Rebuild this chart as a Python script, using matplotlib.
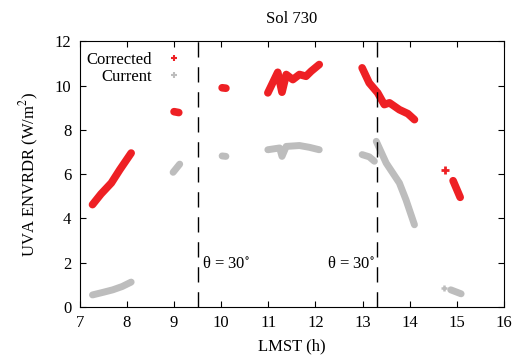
import matplotlib
matplotlib.use("Agg")
import matplotlib.pyplot as plt
from matplotlib.lines import Line2D

RED = "#EE2024"
GRAY = "#BDBDBD"

plt.rcParams.update({
    "font.family": "Liberation Serif", "font.size": 12,
    "mathtext.fontset": "stix",
    "xtick.direction": "in", "ytick.direction": "in",
    "xtick.top": True, "ytick.right": True,
    "xtick.major.size": 4, "ytick.major.size": 4,
    "xtick.major.pad": 6, "ytick.major.pad": 6,
})

# corrected UVA (red), segments
cor_x = [
    [7.27, 7.45, 7.67, 7.85, 8.09],
    [9.0, 9.1],
    [10.02, 10.1],
    [10.99, 11.2, 11.29, 11.38, 11.52, 11.66, 11.8, 11.91, 12.08],
    [12.99, 13.14, 13.32, 13.46, 13.57, 13.78, 13.96, 14.1],
    [14.75],
    [14.92, 15.0, 15.07],
]
cor_y = [
    [4.62, 5.1, 5.6, 6.2, 6.95],
    [8.82, 8.78],
    [9.9, 9.88],
    [9.67, 10.6, 9.7, 10.5, 10.27, 10.5, 10.42, 10.65, 10.95],
    [10.8, 10.12, 9.67, 9.14, 9.22, 8.91, 8.73, 8.46],
    [6.17],
    [5.7, 5.3, 4.95],
]
# current UVA (gray)
cur_x = [
    [7.27, 7.5, 7.7, 7.9, 8.09],
    [8.98, 9.12],
    [10.02, 10.1],
    [10.99, 11.24, 11.29, 11.38, 11.66, 11.87, 12.08],
    [12.99, 13.14, 13.25],
    [13.29, 13.5, 13.78, 13.92, 14.1],
    [14.73],
    [14.87, 15.09],
]
cur_y = [
    [0.54, 0.66, 0.77, 0.92, 1.12],
    [6.08, 6.45],
    [6.82, 6.8],
    [7.1, 7.18, 6.8, 7.25, 7.29, 7.21, 7.1],
    [6.88, 6.78, 6.58],
    [7.48, 6.5, 5.6, 4.84, 3.71],
    [0.85],
    [0.77, 0.59],
]
theta_lines = [9.5, 13.3]

fig = plt.figure(figsize=(5.18, 3.56), dpi=100)
ax = fig.add_axes([0.154, 0.138, 0.819, 0.746])

for xs, ys in zip(cur_x, cur_y):
    if len(xs) == 1:
        ax.plot(xs, ys, "+", color=GRAY, ms=5, mew=1.8)
    else:
        ax.plot(xs, ys, color=GRAY, lw=5, solid_capstyle="round",
                solid_joinstyle="round")
for xs, ys in zip(cor_x, cor_y):
    if len(xs) == 1:
        ax.plot(xs, ys, "+", color=RED, ms=6, mew=2)
    else:
        ax.plot(xs, ys, color=RED, lw=5.5, solid_capstyle="round",
                solid_joinstyle="round")

for xv in theta_lines:
    ax.axvline(xv, color="black", lw=1.0, linestyle=(0, (11, 7)))
ax.text(theta_lines[0] + 0.1, 1.95, "θ = 30$^{\\circ}$", ha="left", va="center")
ax.text(theta_lines[1] - 0.03, 1.95, "θ = 30$^{\\circ}$", ha="right", va="center")

handles = [Line2D([], [], marker="+", ls="none", color=RED, ms=4, mew=1.5),
           Line2D([], [], marker="+", ls="none", color=GRAY, ms=4, mew=1.5)]
ax.legend(handles, ["Corrected", "Current"], loc="upper left", frameon=False,
          markerfirst=False, handletextpad=0.3, labelspacing=0.05,
          borderaxespad=0.0, bbox_to_anchor=(0.0, 0.985))

ax.set_xlim(7, 16)
ax.set_ylim(0, 12)
ax.set_xticks(range(7, 17))
ax.set_yticks(range(0, 13, 2))
ax.set_xlabel("LMST (h)", labelpad=5)
ax.set_ylabel("UVA ENVRDR (W/m$^2$)", labelpad=10)
ax.set_title("Sol 730", fontsize=12, pad=13)

fig.savefig("out.png", dpi=100)
